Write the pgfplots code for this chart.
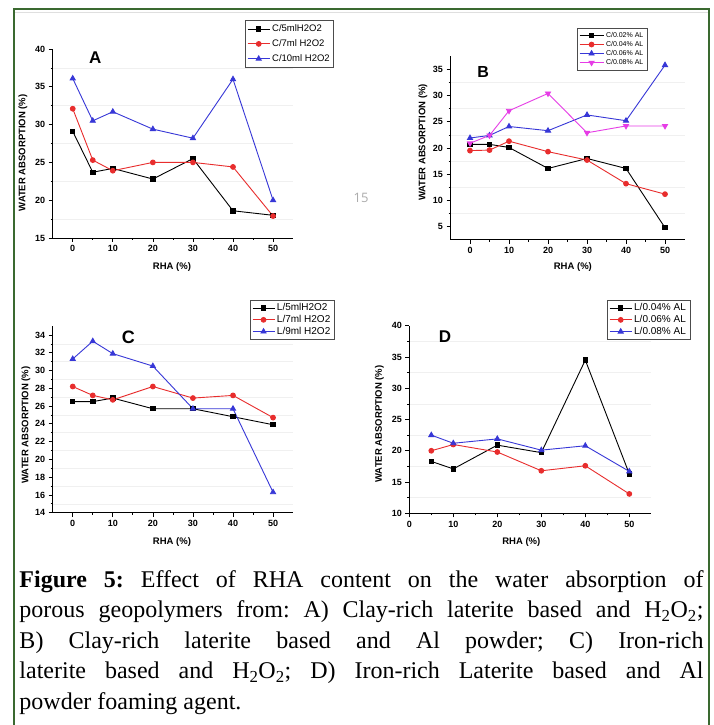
\documentclass[border=0pt]{standalone}
\usepackage{fontspec}
\setmainfont{Liberation Serif}
\newfontfamily\arial{Liberation Sans}
\newfontfamily\opensans{Open Sans}
\usepackage{pgfplots}
\pgfplotsset{compat=1.18}

\definecolor{frame}{RGB}{58,105,48}
\definecolor{cred}{RGB}{232,45,45}
\definecolor{cblue}{RGB}{55,55,215}
\definecolor{cmag}{RGB}{230,60,230}

\pgfplotsset{
  panel/.style={
    scale only axis,
    axis lines=left,
    axis line style={-, line width=0.8pt},
    tick align=outside,
    major tick length=4pt, minor tick length=2pt,
    tick style={line width=0.7pt, black},
    minor x tick num=1, minor y tick num=1,
    yminorgrids, minor y grid style={gray!12, line width=0.6pt},
    tick label style={font=\arial\bfseries\fontsize{9}{10}\selectfont},
    /pgf/number format/assume math mode=true,
    label style={font=\arial\bfseries\fontsize{9.5}{11}\selectfont},
    xlabel={RHA (\%)},
    ylabel={WATER ABSORPTION (\%)},
    xtick={0,10,...,50},
    enlargelimits=false,
    legend cell align=left,
    legend style={draw=gray!60!black, line width=0.5pt, anchor=north west,
      inner xsep=2pt, inner ysep=1.5pt, row sep=-1pt,
      font=\arial\fontsize{9.5}{10}\selectfont},
    legend image code/.code={\draw[mark repeat=2,mark phase=2,##1]
      plot coordinates {(0pt,0pt) (11pt,0pt) (22pt,0pt)};},
    every axis plot/.append style={line width=0.9pt},
    clip=false,
  },
  sblack/.style={black, mark=square*, mark size=2.2pt, mark options={solid}},
  sred/.style={cred, mark=*, mark size=2.4pt, mark options={solid}},
  sblue/.style={cblue, mark=triangle*, mark size=2.9pt, mark options={solid}},
  smag/.style={cmag, mark=triangle*, mark size=2.9pt, mark options={solid, rotate=180}},
}

\begin{document}
\begin{tikzpicture}
\useasboundingbox (0pt,0pt) rectangle (714pt,725pt);
\fill[white] (0pt,0pt) rectangle (714pt,725pt);

% frame and rule of the page
\draw[frame, line width=2pt] (14pt,0pt) -- (14pt,716pt) -- (709pt,716pt) -- (709pt,0pt);
\draw[gray!25, line width=1pt] (15pt,712pt) -- (708pt,712pt);

% page number
\node[text=gray!65, font=\opensans\fontsize{13}{13}\selectfont] at (361pt,527pt) {15};

% ---------------- A ----------------
\begin{axis}[panel, at={(52.7pt,487pt)}, anchor=south west,
  width=240.4pt, height=189pt,
  xmin=-5, xmax=55, ymin=15, ymax=40, ytick={15,20,...,40},
  ylabel style={at={(axis description cs:-0.1235,0.45)}, anchor=center},
  xlabel style={at={(axis description cs:0.496,-0.153)}, anchor=center},
  legend style={at={(axis description cs:0.80,1.153)}, row sep=2.5pt, inner ysep=2.5pt}]
\addplot[sblack] coordinates {(0,29.1) (5,23.7) (10,24.2) (20,22.8) (30,25.5) (40,18.6) (50,18.0)};
\addplot[sred] coordinates {(0,32.1) (5,25.3) (10,23.9) (20,25.0) (30,25.0) (40,24.4) (50,17.9)};
\addplot[sblue] coordinates {(0,36.1) (5,30.5) (10,31.7) (20,29.4) (30,28.2) (40,36.0) (50,20.0)};
\legend{C/5mlH2O2, C/7ml H2O2, C/10ml H2O2}
\node[font=\arial\bfseries\fontsize{17}{17}\selectfont] at (axis cs:5.6,38.8) {A};
\end{axis}

% ---------------- B ----------------
\begin{axis}[panel, at={(450.5pt,485.2pt)}, anchor=south west,
  width=234pt, height=183.6pt,
  xmin=-5, xmax=55, ymin=2.5, ymax=37.5, ytick={5,10,...,35},
  ylabel style={at={(axis description cs:-0.1175,0.53)}, anchor=center},
  xlabel style={at={(axis description cs:0.523,-0.148)}, anchor=center},
  legend style={at={(axis description cs:0.54,1.154)},
    font=\arial\fontsize{7}{7.5}\selectfont, row sep=-1.5pt, inner ysep=2pt},
  legend image code/.code={\draw[mark repeat=2,mark phase=2,#1]
      plot coordinates {(0pt,0pt) (12pt,0pt) (24pt,0pt)};}]
\addplot[sblack] coordinates {(0,20.7) (5,20.7) (10,20.1) (20,16.1) (30,18.0) (40,16.1) (50,4.8)};
\addplot[sred] coordinates {(0,19.5) (5,19.6) (10,21.3) (20,19.3) (30,17.7) (40,13.2) (50,11.2)};
\addplot[sblue] coordinates {(0,21.9) (5,22.4) (10,24.1) (20,23.3) (30,26.3) (40,25.2) (50,35.8)};
\addplot[smag] coordinates {(0,20.9) (5,22.4) (10,27.1) (20,30.4) (30,22.9) (40,24.2) (50,24.2)};
\legend{C/0.02\% AL, C/0.04\% AL, C/0.06\% AL, C/0.08\% AL}
\node[font=\arial\bfseries\fontsize{16}{16}\selectfont] at (axis cs:3.4,34.5) {B};
\end{axis}

% ---------------- C ----------------
\begin{axis}[panel, at={(52.7pt,212.3pt)}, anchor=south west,
  width=240.4pt, height=186.6pt,
  xmin=-5, xmax=55, ymin=14, ymax=35, ytick={14,16,...,34},
  ylabel style={at={(axis description cs:-0.111,0.47)}, anchor=center},
  xlabel style={at={(axis description cs:0.496,-0.155)}, anchor=center},
  legend style={at={(axis description cs:0.82,1.14)},
    font=\arial\fontsize{10}{10.5}\selectfont}]
\addplot[sblack] coordinates {(0,26.5) (5,26.5) (10,26.9) (20,25.7) (30,25.7) (40,24.8) (50,23.9)};
\addplot[sred] coordinates {(0,28.2) (5,27.2) (10,26.7) (20,28.2) (30,26.9) (40,27.2) (50,24.7)};
\addplot[sblue] coordinates {(0,31.3) (5,33.3) (10,31.9) (20,30.5) (30,25.7) (40,25.7) (50,16.3)};
\legend{L/5mlH2O2, L/7ml H2O2, L/9ml H2O2}
\node[font=\arial\bfseries\fontsize{18}{18}\selectfont] at (axis cs:13.9,33.7) {C};
\end{axis}

% ---------------- D ----------------
\begin{axis}[panel, at={(409.3pt,211.7pt)}, anchor=south west,
  width=242pt, height=187.6pt,
  xmin=0, xmax=55, ymin=10, ymax=40, ytick={10,15,...,40},
  ylabel style={at={(axis description cs:-0.124,0.476)}, anchor=center},
  xlabel style={at={(axis description cs:0.463,-0.153)}, anchor=center},
  legend style={at={(axis description cs:0.817,1.137)},
    font=\arial\fontsize{10}{10.5}\selectfont}]
\addplot[sblack] coordinates {(5,18.3) (10,17.1) (20,20.9) (30,19.7) (40,34.5) (50,16.3)};
\addplot[sred] coordinates {(5,20.0) (10,21.0) (20,19.8) (30,16.8) (40,17.6) (50,13.1)};
\addplot[sblue] coordinates {(5,22.5) (10,21.2) (20,21.9) (30,20.1) (40,20.8) (50,16.7)};
\legend{L/0.04\% AL, L/0.06\% AL, L/0.08\% AL}
\node[font=\arial\bfseries\fontsize{17}{17}\selectfont] at (axis cs:8.1,38.2) {D};
\end{axis}

% caption
\node[anchor=north west, inner sep=0pt, text width=684pt, align=justify,
  font=\fontsize{24}{30.5}\selectfont] at (19.3pt,155pt)
{\noindent\frenchspacing\textbf{Figure 5:} Effect of RHA content on the water absorption of\linebreak
porous geopolymers from: A) Clay-rich laterite based and H\textsubscript{2}O\textsubscript{2};\linebreak
B) Clay-rich laterite based and Al powder; C) Iron-rich\linebreak
laterite based and H\textsubscript{2}O\textsubscript{2}; D) Iron-rich Laterite based and Al\linebreak
powder foaming agent.};
\end{tikzpicture}
\end{document}
